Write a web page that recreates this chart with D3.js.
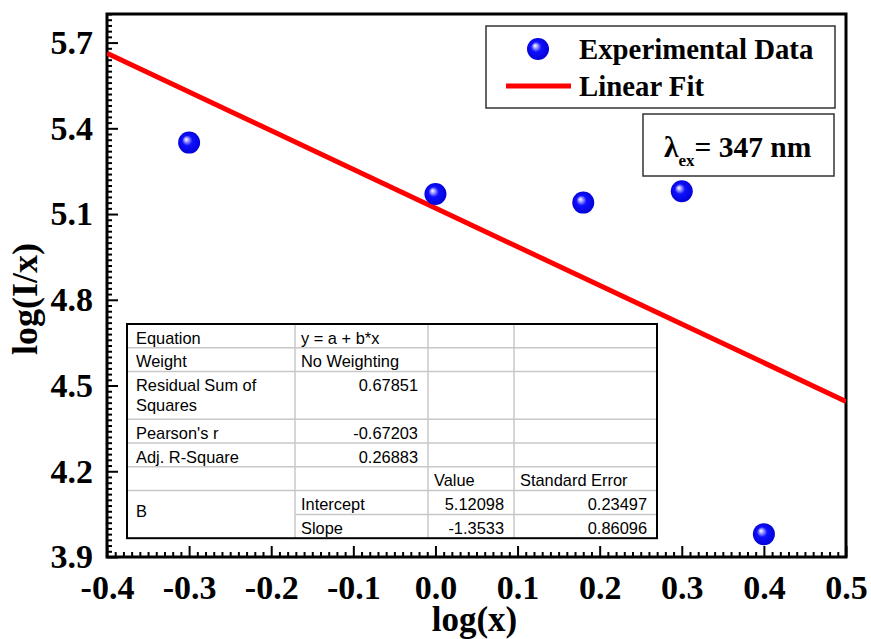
<!DOCTYPE html>
<html>
<head>
<meta charset="utf-8">
<script src="https://cdn.jsdelivr.net/npm/d3@7/dist/d3.min.js"></script>
<style>
  html, body { margin: 0; padding: 0; background: #fff; }
  svg { display: block; }
</style>
</head>
<body>
<svg id="chart" width="871" height="639"></svg>
<script>
// Measured data: log(x) vs log(I/x)
const logX = [-0.3, 0.0, 0.18, 0.3, 0.4];
const logIx = [5.35, 5.17, 5.14, 5.18, 3.98];

// Linear fit parameters
const fitIntercept = 5.12098;
const fitSlope = -1.3533;

// Axis ticks
const xTicks = [-0.4, -0.3, -0.2, -0.1, 0.0, 0.1, 0.2, 0.3, 0.4, 0.5];
const yTicks = [3.9, 4.2, 4.5, 4.8, 5.1, 5.4, 5.7];

// Fit statistics table rows
const statLabels = ["Equation", "Weight", "Residual Sum of\nSquares", "Pearson's r", "Adj. R-Square"];
const statValues = ["y = a + b*x", "No Weighting", "0.67851", "-0.67203", "0.26883"];
const paramHeader = ["Value", "Standard Error"];
const paramNames = ["Intercept", "Slope"];
const paramValues = ["5.12098", "-1.3533"];
const paramErrors = ["0.23497", "0.86096"];

const legendLabels = ["Experimental Data", "Linear Fit"];

const svg = d3.select("#chart");
const serif = "'Liberation Serif', 'Times New Roman', serif";
const sans = "'Liberation Sans', Arial, sans-serif";

const L = 107, R = 846, T = 14, B = 557;
const x = d3.scaleLinear().domain([-0.4, 0.5]).range([L, R]);
const y = d3.scaleLinear().domain([3.9, 5.8]).range([B, T]);

// gradient for the spherical markers
const defs = svg.append("defs");
const grad = defs.append("radialGradient").attr("id", "ball")
  .attr("cx", "50%").attr("cy", "50%").attr("r", "55%")
  .attr("fx", "36%").attr("fy", "34%");
grad.append("stop").attr("offset", "0%").attr("stop-color", "#ffffff");
grad.append("stop").attr("offset", "15%").attr("stop-color", "#b0b0ff");
grad.append("stop").attr("offset", "42%").attr("stop-color", "#1010ff");
grad.append("stop").attr("offset", "100%").attr("stop-color", "#0000d0");
defs.append("clipPath").attr("id", "plotclip")
  .append("rect").attr("x", L).attr("y", T).attr("width", R - L).attr("height", B - T);

// minor ticks
const xMinor = d3.range(-40, 51).map(d => d / 100).filter(v => !xTicks.some(t => Math.abs(t - v) < 1e-9));
const yMinor = d3.range(195, 291).map(d => d / 50).filter(v => !yTicks.some(t => Math.abs(t - v) < 1e-9));

const xMinorAxis = svg.append("g").attr("transform", `translate(0,${B})`)
  .call(d3.axisBottom(x).tickValues(xMinor).tickSizeInner(-5).tickSizeOuter(0).tickFormat(""));
const yMinorAxis = svg.append("g").attr("transform", `translate(${L},0)`)
  .call(d3.axisLeft(y).tickValues(yMinor).tickSizeInner(-5).tickSizeOuter(0).tickFormat(""));

const xAxis = svg.append("g").attr("transform", `translate(0,${B})`)
  .call(d3.axisBottom(x).tickValues(xTicks).tickSizeInner(-11).tickSizeOuter(0)
    .tickPadding(18).tickFormat(d3.format(".1f")));
const yAxis = svg.append("g").attr("transform", `translate(${L},0)`)
  .call(d3.axisLeft(y).tickValues(yTicks).tickSizeInner(-11).tickSizeOuter(0)
    .tickPadding(14).tickFormat(d3.format(".1f")));

[xMinorAxis, yMinorAxis, xAxis, yAxis].forEach(g => {
  g.select(".domain").remove();
  g.selectAll(".tick line").attr("stroke", "#000").attr("stroke-width", 2);
});
[xAxis, yAxis].forEach(g => {
  g.selectAll(".tick text")
    .attr("font-family", serif).attr("font-weight", "bold").attr("font-size", 34).attr("fill", "#000");
});
xAxis.selectAll(".tick text").text(d => d3.format(".1f")(d).replace("−", "-"));
yAxis.selectAll(".tick text").attr("x", -14);

// plot frame
svg.append("rect").attr("x", L).attr("y", T).attr("width", R - L).attr("height", B - T)
  .attr("fill", "none").attr("stroke", "#000").attr("stroke-width", 3);

// axis titles
svg.append("text").attr("x", (L + R) / 2 - 2).attr("y", 631).attr("text-anchor", "middle")
  .attr("font-family", serif).attr("font-weight", "bold").attr("font-size", 35).text("log(x)");
svg.append("text").attr("transform", "translate(37,299) rotate(-90)").attr("text-anchor", "middle")
  .attr("font-family", serif).attr("font-weight", "bold").attr("font-size", 36).text("log(I/x)");

// fit table
const cols = [127, 295, 428, 514, 657];
const rowH = 23.8, tTop = 324;
const rowY = u => tTop + u * rowH;
const tbl = svg.append("g");
tbl.append("rect").attr("x", cols[0]).attr("y", tTop).attr("width", cols[4] - cols[0]).attr("height", 9 * rowH)
  .attr("fill", "#fff");
// horizontal rules (units of row height): full width
const hFull = [1, 2, 4, 5, 6, 7];
hFull.forEach(u => tbl.append("line").attr("x1", cols[0]).attr("x2", cols[4])
  .attr("y1", rowY(u)).attr("y2", rowY(u)).attr("stroke", "#c8c8c8").attr("stroke-width", 1.5));
tbl.append("line").attr("x1", cols[1]).attr("x2", cols[4]).attr("y1", rowY(8)).attr("y2", rowY(8))
  .attr("stroke", "#c8c8c8").attr("stroke-width", 1.5);
cols.slice(1, 4).forEach(c => tbl.append("line").attr("x1", c).attr("x2", c)
  .attr("y1", tTop).attr("y2", rowY(9)).attr("stroke", "#c8c8c8").attr("stroke-width", 1.5));
tbl.append("rect").attr("x", cols[0]).attr("y", tTop).attr("width", cols[4] - cols[0]).attr("height", 9 * rowH)
  .attr("fill", "none").attr("stroke", "#000").attr("stroke-width", 2);

function cell(txt, xPos, yPos, anchor) {
  tbl.append("text").attr("x", xPos).attr("y", yPos).attr("text-anchor", anchor || "start")
    .attr("font-family", sans).attr("font-size", 16.4).attr("fill", "#000").text(txt);
}
const statRowUnits = [0, 1, 2, 4, 5];
statLabels.forEach((lab, i) => {
  const base = rowY(statRowUnits[i]) + 19.5;
  lab.split("\n").forEach((part, k) => cell(part, cols[0] + 9, base + k * 20));
  const v = statValues[i];
  if (i < 2) cell(v, cols[1] + 6, base);
  else cell(v, cols[2] - 10, base, "end");
});
cell(paramHeader[0], cols[2] + 6, rowY(6) + 19.5);
cell(paramHeader[1], cols[3] + 6, rowY(6) + 19.5);
cell("B", cols[0] + 9, rowY(7.5) + 14.5);
paramNames.forEach((n, i) => {
  const base = rowY(7 + i) + 19.5;
  cell(n, cols[1] + 6, base);
  cell(paramValues[i], cols[3] - 10, base, "end");
  cell(paramErrors[i], cols[4] - 10, base, "end");
});

// linear fit line
const fitY = v => fitIntercept + fitSlope * v;
svg.append("line").attr("clip-path", "url(#plotclip)")
  .attr("x1", x(-0.4)).attr("y1", y(fitY(-0.4)))
  .attr("x2", x(0.5)).attr("y2", y(fitY(0.5)))
  .attr("stroke", "#ff0000").attr("stroke-width", 5);

// data points
svg.append("g").selectAll("circle").data(logX.map((v, i) => [v, logIx[i]])).join("circle")
  .attr("cx", d => x(d[0])).attr("cy", d => y(d[1])).attr("r", 11)
  .attr("fill", "url(#ball)");

// legend
const lg = svg.append("g");
lg.append("rect").attr("x", 486).attr("y", 26).attr("width", 349).attr("height", 82)
  .attr("fill", "#fff").attr("stroke", "#333").attr("stroke-width", 1.5);
lg.append("circle").attr("cx", 538).attr("cy", 49).attr("r", 11).attr("fill", "url(#ball)");
lg.append("line").attr("x1", 506).attr("x2", 571).attr("y1", 86).attr("y2", 86)
  .attr("stroke", "#ff0000").attr("stroke-width", 5);
legendLabels.forEach((t, i) => lg.append("text").attr("x", 579).attr("y", 59 + i * 37)
  .attr("font-family", serif).attr("font-weight", "bold").attr("font-size", 28.8).text(t));

// excitation wavelength label
const lb = svg.append("g");
lb.append("rect").attr("x", 643).attr("y", 114).attr("width", 191).attr("height", 62)
  .attr("fill", "#fff").attr("stroke", "#333").attr("stroke-width", 1.5);
const lt = lb.append("text").attr("x", 664).attr("y", 157)
  .attr("font-family", serif).attr("font-weight", "bold").attr("font-size", 29.5);
lt.append("tspan").text("λ");
lt.append("tspan").attr("font-size", 17).attr("dy", 9).text("ex");
lt.append("tspan").attr("dy", -9).text("= 347 nm");
</script>
</body>
</html>
